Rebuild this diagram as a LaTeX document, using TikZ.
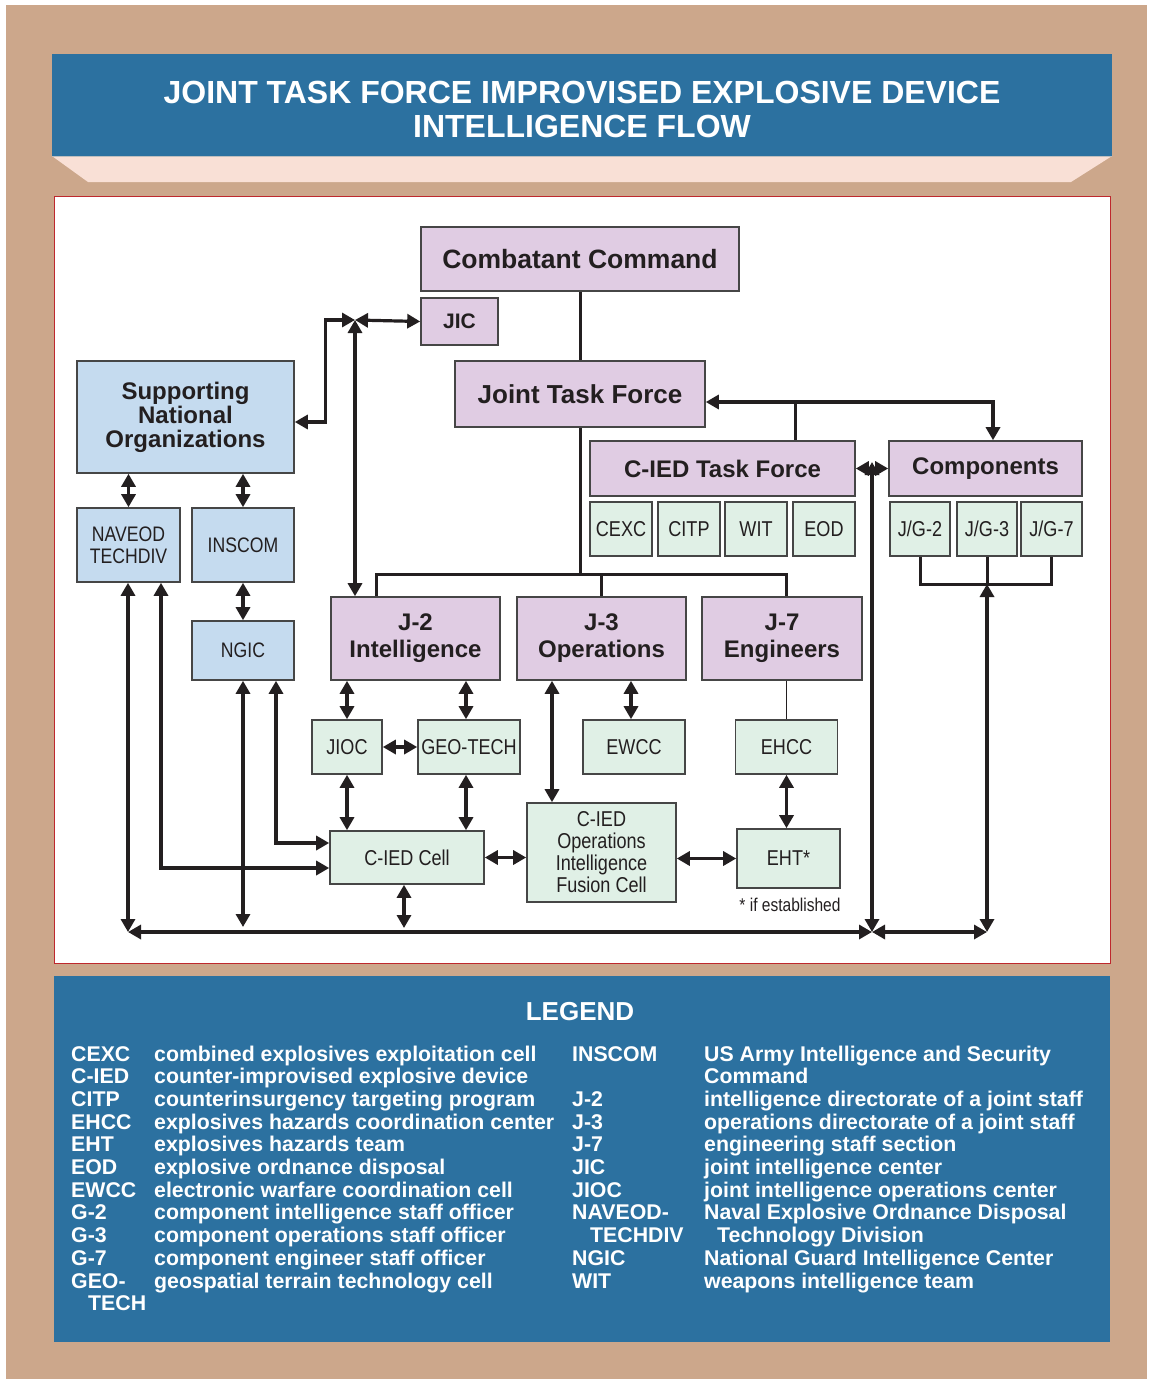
\documentclass[tikz,border=0pt]{standalone}
\usepackage{fontspec}
\setmainfont{Liberation Sans}
\newfontfamily\condfont[FakeStretch=0.84]{Liberation Sans}
\usetikzlibrary{arrows.meta, calc, positioning}
\definecolor{tanbg}{RGB}{204,167,139}
\definecolor{titleblue}{RGB}{44,113,160}
\definecolor{blush}{RGB}{249,224,214}
\definecolor{panelred}{RGB}{190,40,45}
\definecolor{lilac}{RGB}{224,204,227}
\definecolor{paleblue}{RGB}{197,219,239}
\definecolor{palegreen}{RGB}{224,240,230}
\definecolor{boxline}{RGB}{70,70,70}
\definecolor{inkdark}{RGB}{35,31,32}

\begin{document}
\begin{tikzpicture}[x=1pt, y=-1pt,
    box/.style={draw=boxline, line width=1.6pt, inner sep=2pt, align=center, text=inkdark},
    cmdbox/.style={box, fill=lilac, font=\bfseries\fontsize{24}{27}\selectfont},
    natbox/.style={box, fill=paleblue, font=\condfont\fontsize{21}{22}\selectfont},
    cellbox/.style={box, fill=palegreen, font=\condfont\fontsize{21.5}{22}\selectfont},
    dbl/.style={line width=3.2pt, draw=inkdark, {Triangle[length=13pt,width=14pt]}-{Triangle[length=13pt,width=14pt]}},
    link/.style={line width=3pt, draw=inkdark},
    legtext/.style={text=white, inner sep=0pt, font=\bfseries\fontsize{21.3}{22.7}\selectfont}]

    % Frame
    \fill[white] (0,0) rectangle (1149,1381);
    \fill[tanbg] (6,5) rectangle (1147,1379);

    % Title
    \fill[titleblue] (52,54) rectangle (1112,156);
    \fill[blush] (52,156) -- (1112,156) -- (1071,182) -- (88,182) -- cycle;
    \draw[gray!50, line width=1pt] (52,156) -- (1112,156);
    \node[text=white, align=center, font=\bfseries\fontsize{32}{34}\selectfont] (title) at (582,109)
        {JOINT TASK FORCE IMPROVISED EXPLOSIVE DEVICE\\INTELLIGENCE FLOW};

    % Diagram panel
    \draw[panelred, fill=white, line width=1pt] (54,196) rectangle (1110,963);

    % Command boxes
    \node[cmdbox, minimum width=318, minimum height=64, font=\bfseries\fontsize{26.5}{28}\selectfont] (cc) at (580,259) {Combatant Command};
    \node[cmdbox, minimum width=77, minimum height=47, font=\bfseries\fontsize{21}{24}\selectfont] (jic) at (459.5,321.5) {JIC};
    \node[cmdbox, minimum width=250, minimum height=66, font=\bfseries\fontsize{26}{28}\selectfont] (jtf) at (580,394) {Joint Task Force};
    \node[cmdbox, minimum width=265, minimum height=55] (ciedtf) at (722.5,468.5) {C-IED Task Force};
    \node[cmdbox, minimum width=193, minimum height=55] (comp) at (985.5,468.5) {Components};
    \node[cmdbox, minimum width=169, minimum height=83] (j2) at (415.5,638.5) {J-2\\Intelligence};
    \node[cmdbox, minimum width=169, minimum height=83] (j3) at (601.5,638.5) {J-3\\Operations};
    \node[cmdbox, minimum width=160, minimum height=83] (j7) at (782,638.5) {J-7\\Engineers};

    % National organizations
    \node[box, fill=paleblue, minimum width=217, minimum height=112, font=\bfseries\fontsize{24}{24}\selectfont] (sno) at (185.5,417) {Supporting\\National\\Organizations};
    \node[natbox, minimum width=103, minimum height=74] (naveod) at (128.5,545) {NAVEOD\\TECHDIV};
    \node[natbox, minimum width=102, minimum height=74] (inscom) at (243,545) {INSCOM};
    \node[natbox, minimum width=102, minimum height=59] (ngic) at (243,650.5) {NGIC};

    % Cells
    \node[cellbox, minimum width=62, minimum height=54] (cexc) at (621,529) {CEXC};
    \node[cellbox, minimum width=62, minimum height=54] (citp) at (689,529) {CITP};
    \node[cellbox, minimum width=62, minimum height=54] (wit) at (756,529) {WIT};
    \node[cellbox, minimum width=62, minimum height=54] (eod) at (824,529) {EOD};
    \node[cellbox, minimum width=60, minimum height=54] (jg2) at (920,529) {J/G-2};
    \node[cellbox, minimum width=60, minimum height=54] (jg3) at (987,529) {J/G-3};
    \node[cellbox, minimum width=61, minimum height=54] (jg7) at (1051.5,529) {J/G-7};
    \node[cellbox, minimum width=70, minimum height=54] (jioc) at (347,747) {JIOC};
    \node[cellbox, minimum width=102, minimum height=54] (geo) at (469,747) {GEO-TECH};
    \node[cellbox, minimum width=102, minimum height=54] (ewcc) at (634,747) {EWCC};
    \node[cellbox, minimum width=102, minimum height=54] (ehcc) at (786.5,747) {EHCC};
    \node[cellbox, minimum width=154, minimum height=53] (ciedcell) at (407,857.5) {C-IED Cell};
    \node[cellbox, minimum width=149, minimum height=99] (fusion) at (601.5,852.5) {C-IED\\Operations\\Intelligence\\Fusion Cell};
    \node[cellbox, minimum width=103, minimum height=59] (eht) at (788.5,858.5) {EHT*};
    \node[text=inkdark, font=\condfont\fontsize{18.5}{20}\selectfont] (estab) at (790,905) {* if established};

    % Junctions
    \coordinate (jicjn) at (355,320);
    \coordinate (tfjn) at (795,402);
    \coordinate (jbus) at (580,574);
    \coordinate (hub) at (872,462);
    \coordinate (busL) at (128,932);
    \coordinate (busR) at (872,932);
    \coordinate (busC) at (987,932);
    \coordinate (jgbar) at (987,584);

    % Chain of command
    \draw[link] (cc.south) -- (jtf.north);
    \draw[link] (jtf.south) -- (jbus);
    \draw[link] ([xshift=-39.5]j2.north) |- ([xshift=4]j7.north |- jbus) -- ([xshift=4]j7.north);
    \draw[link] (j3.north |- jbus) -- (j3.north);
    \draw[link] (tfjn) -- (ciedtf.north -| tfjn);
    \draw[dbl] (jtf.east |- tfjn) -| ([xshift=7.5]comp.north);
    \draw[link, line width=1.8pt] (ehcc.north |- j7.south) -- (ehcc.north);
    \draw[link] (jg2.south) |- (jgbar) -| (jg7.south);
    \draw[link] (jg3.south) -- (jgbar);

    % Intelligence links, top
    \draw[dbl] ([yshift=-5]sno.east) -- ++(31,0) |- (jicjn);
    \draw[dbl] (jicjn) -- (jic.west);
    \draw[dbl] (jicjn) -- (jicjn |- j2.north);
    \draw[dbl] (ciedtf.east) -- (comp.west);

    % National links
    \draw[dbl] (naveod.north) -- (naveod.north |- sno.south);
    \draw[dbl] (inscom.north) -- (inscom.north |- sno.south);
    \draw[dbl] (inscom.south) -- (ngic.north);
    \draw[dbl] (naveod.south -| busL) -- (busL);
    \draw[dbl] ([xshift=32.5]naveod.south) |- ([yshift=-10.5]ciedcell.west);
    \draw[dbl] ([xshift=33]ngic.south) |- ([yshift=14.5]ciedcell.west);
    \draw[dbl, shorten >=5pt] (ngic.south) -- (ngic.south |- busL);

    % Staff links
    \draw[dbl] (jioc.north) -- (jioc.north |- j2.south);
    \draw[dbl] ([xshift=-3]geo.north) -- ([xshift=-3]geo.north |- j2.south);
    \draw[dbl] (jioc.east) -- (geo.west);
    \draw[dbl] (jioc.south) -- (jioc.south |- ciedcell.north);
    \draw[dbl] ([xshift=-3]geo.south) -- ([xshift=-3]geo.south |- ciedcell.north);
    \draw[dbl] ([xshift=-49.5]j3.south) -- ([xshift=-49.5]j3.south |- fusion.north);
    \draw[dbl] ([xshift=-3]ewcc.north) -- ([xshift=-3]ewcc.north |- j3.south);
    \draw[dbl] (ciedcell.east) -- (fusion.west |- ciedcell.east);
    \draw[dbl] (fusion.east |- eht.west) -- (eht.west);
    \draw[dbl] (ehcc.south) -- (ehcc.south |- eht.north);
    \draw[dbl, shorten >=4pt] ([xshift=-3]ciedcell.south) -- ([xshift=-3]ciedcell.south |- busL);

    % Bottom bus
    \draw[dbl] (busL) -- (busR);
    \draw[dbl] (hub) -- (busR);
    \draw[dbl] (busR) -- (busC);
    \draw[dbl] (busC) -- (jgbar);

    % Legend
    \fill[titleblue] (54,976) rectangle (1110,1342);
    \node[text=white, font=\bfseries\fontsize{26}{28}\selectfont] (legend) at (580,1012) {LEGEND};
    \node[legtext, anchor=base west] (legleft) at (71,1061) {%
      \begin{tabular}[t]{@{}p{83pt}@{}l@{}}
        CEXC & combined explosives exploitation cell\\
        C-IED & counter-improvised explosive device\\
        CITP & counterinsurgency targeting program\\
        EHCC & explosives hazards coordination center\\
        EHT & explosives hazards team\\
        EOD & explosive ordnance disposal\\
        EWCC & electronic warfare coordination cell\\
        G-2 & component intelligence staff officer\\
        G-3 & component operations staff officer\\
        G-7 & component engineer staff officer\\
        GEO- & geospatial terrain technology cell\\
        \hspace*{17pt}TECH &
      \end{tabular}};
    \node[legtext, anchor=base west] (legright) at (572,1061) {%
      \begin{tabular}[t]{@{}p{132pt}@{}l@{}}
        INSCOM & US Army Intelligence and Security\\
         & Command\\
        J-2 & intelligence directorate of a joint staff\\
        J-3 & operations directorate of a joint staff\\
        J-7 & engineering staff section\\
        JIC & joint intelligence center\\
        JIOC & joint intelligence operations center\\
        NAVEOD- & Naval Explosive Ordnance Disposal\\
        \hspace*{18pt}TECHDIV & \hspace*{13pt}Technology Division\\
        NGIC & National Guard Intelligence Center\\
        WIT & weapons intelligence team
      \end{tabular}};
\end{tikzpicture}
\end{document}
